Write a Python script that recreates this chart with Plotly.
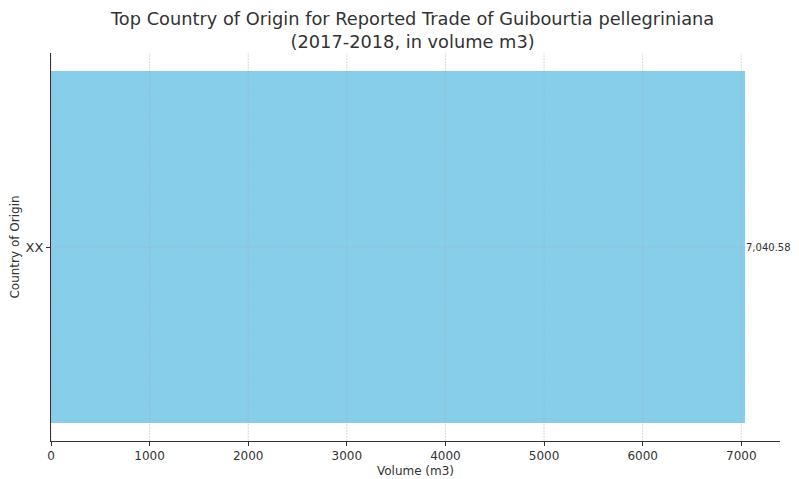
import plotly.graph_objects as go

countries = ["XX"]
volumes = [7040.58]
x_ticks = [0, 1000, 2000, 3000, 4000, 5000, 6000, 7000]

font_family = "DejaVu Sans"
text_color = "#333333"
grid_color = "rgba(170,170,170,0.45)"

fig = go.Figure()
fig.add_trace(go.Bar(
    x=volumes, y=countries, orientation="h",
    marker=dict(color="#87CEEB", line=dict(width=0)),
    width=0.8,
))

# value label at the end of the bar
for c, v in zip(countries, volumes):
    fig.add_annotation(x=v, y=c, text=f"{v:,.2f}", showarrow=False,
                       xanchor="left", yanchor="middle", xshift=-1,
                       font=dict(size=10, color=text_color, family=font_family))

# dashed grid drawn over the bar, as in the source
for t in x_ticks:
    fig.add_shape(type="line", xref="x", yref="paper", x0=t, x1=t, y0=0, y1=1,
                  line=dict(color=grid_color, width=1, dash="2px,1px"), layer="above")
for c in countries:
    fig.add_shape(type="line", xref="paper", yref="y", x0=0, x1=1, y0=c, y1=c,
                  line=dict(color=grid_color, width=1, dash="2px,1px"), layer="above")

# title as an annotation above the plot area
fig.add_annotation(
    text="Top Country of Origin for Reported Trade of Guibourtia pellegriniana<br>(2017-2018, in volume m3)",
    xref="paper", yref="paper", x=0.5, y=1, xanchor="center", yanchor="bottom",
    yshift=-1, xshift=-4, showarrow=False,
    font=dict(size=17.8, color=text_color, family=font_family),
)

# the page body adds an 8px margin, so the figure is sized 8px smaller
fig.update_layout(
    width=791, height=471,
    margin=dict(l=43, r=19, t=45, b=38),
    paper_bgcolor="white", plot_bgcolor="white",
    font=dict(family=font_family, color=text_color),
    showlegend=False,
    bargap=0,
)
fig.update_xaxes(
    range=[0, 7040.58 * 1.05], tickvals=x_ticks, showgrid=False, zeroline=False,
    showline=True, linecolor="#333333", linewidth=1, ticks="outside", ticklen=4,
    tickcolor="#333333", tickfont=dict(size=12), automargin=False,
    title=dict(text="Volume (m3)", font=dict(size=12), standoff=4),
)
fig.update_yaxes(
    range=[-0.44, 0.44], showgrid=False, zeroline=False,
    showline=True, linecolor="#333333", linewidth=1, ticks="outside", ticklen=4,
    tickcolor="#333333", tickfont=dict(size=13), automargin=False,
    title=dict(text="Country of Origin", font=dict(size=12), standoff=6),
)

fig.write_html("out.html")
